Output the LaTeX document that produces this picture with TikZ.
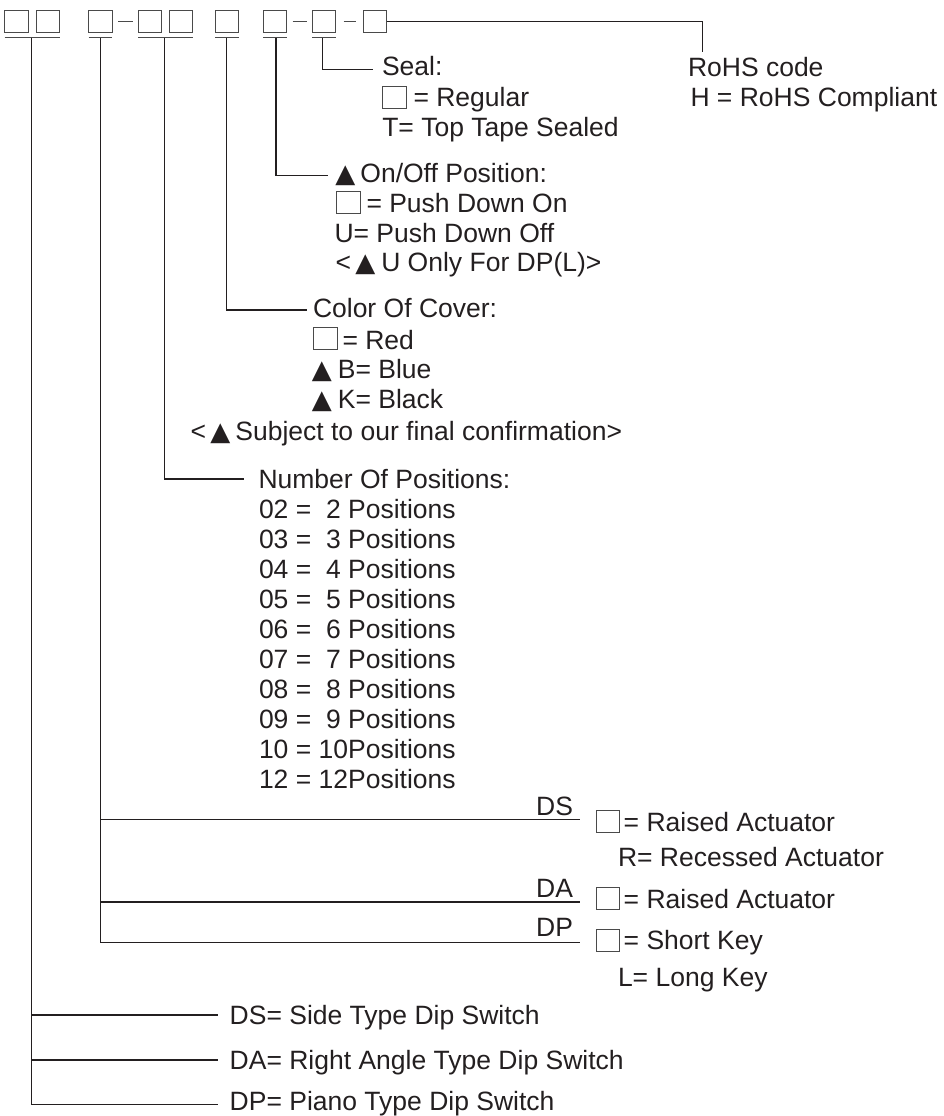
\documentclass[tikz,border=0pt]{standalone}
\usepackage{fontspec}
\setmainfont{Liberation Sans}
\newfontfamily\symf{DejaVu Sans}
\usetikzlibrary{calc}
\definecolor{ink}{HTML}{231F20}
\definecolor{boxc}{HTML}{4A4A4A}
\newcommand\tri{{\symf\fontsize{26}{30}\selectfont ▲}}
\begin{document}
\begin{tikzpicture}[x=1pt,y=-1pt,
  conn/.style={draw=ink,line width=1.1pt},
  hbox/.style={draw=boxc,line width=0.9pt,minimum width=23.3pt,minimum height=22.7pt,inner sep=0pt,outer sep=0pt},
  ibox/.style={draw=boxc,line width=0.9pt,inner sep=0pt,outer sep=0pt,anchor=south west,minimum width=23.5pt,minimum height=22pt},
  uline/.style={draw=boxc,line width=1.1pt},
  lbl/.style={anchor=base west,inner sep=0pt,outer sep=0pt,text=ink,font=\fontsize{26.5}{30}\selectfont},
  lblr/.style={lbl,anchor=base east}]
\useasboundingbox (0,0) rectangle (943,1116);

% header boxes
\node[hbox] (b1) at (16.35,21.35) {};
\node[hbox] (b2) at (48,21.35) {};
\node[hbox] (b3) at (100.35,21.35) {};
\node[hbox] (b4) at (150,21.35) {};
\node[hbox] (b5) at (181,21.35) {};
\node[hbox] (b6) at (227,21.35) {};
\node[hbox] (b7) at (275,21.35) {};
\node[hbox] (b8) at (324,21.35) {};
\node[hbox] (b9) at (375,21.35) {};

% underlines
\draw[uline] ($(b1.south west)+(0,5)$) -- ($(b2.south east)+(0,5)$);
\draw[uline] ($(b3.south west)+(0,5)$) -- ($(b3.south east)+(0,5)$);
\draw[uline] ($(b4.south west)+(0,5)$) -- ($(b5.south east)+(0,5)$);
\draw[uline] ($(b6.south west)+(0,5)$) -- ($(b6.south east)+(0,5)$);
\draw[uline] ($(b7.south west)+(0,5)$) -- ($(b7.south east)+(0,5)$);
\draw[uline] ($(b8.south west)+(0,5)$) -- ($(b8.south east)+(0,5)$);

% dashes between boxes
\draw[uline,shorten <=6.3pt,shorten >=5pt] (b3.east) -- (b4.west);
\draw[uline,shorten <=6pt,shorten >=5pt] (b7.east) -- (b8.west);
\draw[uline,shorten <=8pt,shorten >=7pt] (b8.east) -- (b9.west);

% connector start points
\coordinate (v1) at (31.7,37.7);
\coordinate (v2) at (100.7,37.7);
\coordinate (v3) at (164.3,37.7);
\coordinate (v4) at (226.7,37.7);
\coordinate (v5) at (276,37.7);
\coordinate (v6) at (322.7,37.7);
% connector end points
\coordinate (rohs) at (702.7,51.7);
\coordinate (e6) at (372.7,69.3);
\coordinate (e5) at (328,175.5);
\coordinate (e4) at (306.7,310);
\coordinate (e3) at (244,479);
\coordinate (e2a) at (580,819.5);
\coordinate (e2b) at (580,902);
\coordinate (e2c) at (580,942.5);
\coordinate (e1a) at (218.3,1015);
\coordinate (e1b) at (218.3,1060);
\coordinate (e1c) at (218.3,1104.5);

\draw[conn] (b9.east) -| (rohs);
\draw[conn] (v6) |- (e6);
\draw[conn] (v5) |- (e5);
\draw[conn] (v4) |- (e4);
\draw[conn] (v3) |- (e3);
\draw[conn] (v2) |- (e2c);
\draw[conn] (v2 |- e2a) -- (e2a);
\draw[conn] (v2 |- e2b) -- (e2b);
\draw[conn] (v1) |- (e1c);
\draw[conn] (v1 |- e1a) -- (e1a);
\draw[conn] (v1 |- e1b) -- (e1b);

% Seal
\node[lbl] (seal) at (382,76) {Seal:};
\node[ibox] (sq1) at (382.7,108.3) {};
\node[lbl] (seal1) at (413.5,106.7) {= Regular};
\node[lbl] (seal2) at (382.3,136) {T= Top Tape Sealed};

% RoHS
\node[lbl] (rohst) at (688,76.7) {RoHS code};
\node[lbl] (rohs1) at (690.5,106.7) {H = RoHS Compliant};

% On/Off
\node[lbl] (onoff) at (335.3,182.7) {\tri\hspace{5.1pt}On/Off Position:};
\node[ibox,minimum width=24pt] (sq2) at (336.3,213.5) {};
\node[lbl] (onoff1) at (366.5,212.7) {= Push Down On};
\node[lbl] (onoff2) at (334.5,242.7) {U= Push Down Off};
\node[lbl] (onoff3) at (335.5,271.7) {<\hspace{4.3pt}\tri\hspace{6pt}U Only For DP(L)>};

% Color
\node[lbl] (color) at (313,317.3) {Color Of Cover:};
\node[ibox] (sq3) at (313.5,349.8) {};
\node[lbl] (color1) at (342.5,349) {= Red};
\node[lbl] (color2) at (311.9,378.3) {\tri\hspace{6pt}B= Blue};
\node[lbl] (color3) at (311.9,408.3) {\tri\hspace{6pt}K= Black};
\node[lbl] (color4) at (190.5,440) {<\hspace{4.3pt}\tri\hspace{5.1pt}Subject to our final confirmation>};

% Number of positions
\node[lbl] (num) at (258.5,488.3) {Number Of Positions:};
\node[lbl] (n02) at (259,518.3) {02 =\ \ 2 Positions};
\node[lbl] (n03) at (259,548.3) {03 =\ \ 3 Positions};
\node[lbl] (n04) at (259,578.3) {04 =\ \ 4 Positions};
\node[lbl] (n05) at (259,608.3) {05 =\ \ 5 Positions};
\node[lbl] (n06) at (259,638.3) {06 =\ \ 6 Positions};
\node[lbl] (n07) at (259,668.3) {07 =\ \ 7 Positions};
\node[lbl] (n08) at (259,698.3) {08 =\ \ 8 Positions};
\node[lbl] (n09) at (259,728.3) {09 =\ \ 9 Positions};
\node[lbl] (n10) at (259,758.3) {10 = 10Positions};
\node[lbl] (n12) at (259,788.3) {12 = 12Positions};

% DS / DA / DP actuator
\node[lblr] (ds) at (573,815) {DS};
\node[ibox] (sq4) at (596,832.5) {};
\node[lbl] (ds1) at (623.7,831.7) {= Raised Actuator};
\node[lbl] (ds2) at (618,866) {R= Recessed Actuator};
\node[lblr] (da) at (573,897.3) {DA};
\node[ibox] (sq5) at (596,909.5) {};
\node[lbl] (da1) at (623.7,908.3) {= Raised Actuator};
\node[lblr] (dp) at (573,936.7) {DP};
\node[ibox] (sq6) at (596,951) {};
\node[lbl] (dp1) at (623.7,949.3) {= Short Key};
\node[lbl] (dp2) at (618,986.5) {L= Long Key};

% Types
\node[lbl] (t1) at (229.7,1024.5) {DS= Side Type Dip Switch};
\node[lbl] (t2) at (229.7,1069.5) {DA= Right Angle Type Dip Switch};
\node[lbl] (t3) at (229.7,1110.3) {DP= Piano Type Dip Switch};
\end{tikzpicture}
\end{document}
